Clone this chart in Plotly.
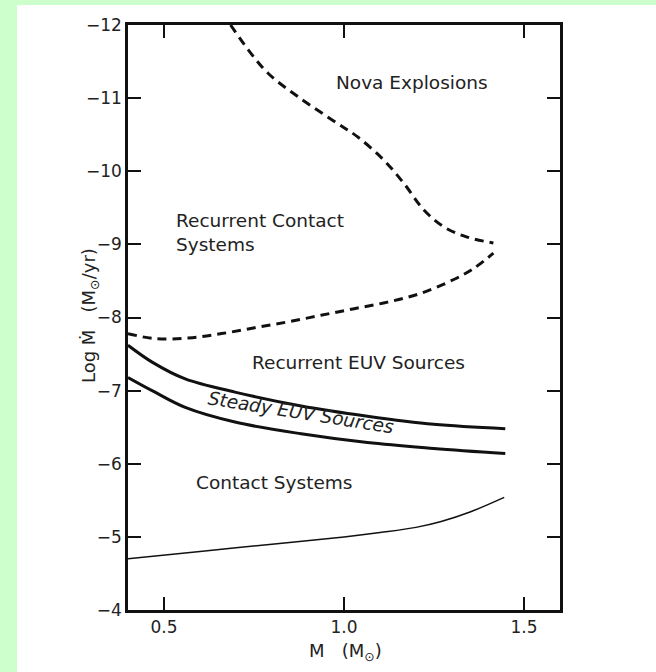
import plotly.graph_objects as go

# ---- data ----
nova_x = [0.685, 0.734, 0.789, 0.872, 0.983, 1.038, 1.111, 1.167, 1.222, 1.277, 1.342, 1.415]
nova_y = [-12.0, -11.66, -11.34, -11.02, -10.65, -10.47, -10.15, -9.83, -9.47, -9.24, -9.10, -9.02]

rc_x = [0.40, 0.476, 0.568, 0.66, 0.752, 0.844, 0.936, 1.028, 1.121, 1.213, 1.305, 1.36, 1.415]
rc_y = [-7.78, -7.71, -7.72, -7.78, -7.86, -7.94, -8.03, -8.12, -8.21, -8.33, -8.52, -8.67, -8.88]

euv_x = [0.40, 0.467, 0.559, 0.697, 0.881, 1.065, 1.249, 1.448]
euv_upper_y = [-7.62, -7.39, -7.16, -6.98, -6.79, -6.65, -6.54, -6.48]
euv_lower_y = [-7.18, -7.0, -6.77, -6.57, -6.41, -6.29, -6.21, -6.14]

contact_x = [0.40, 0.6, 0.8, 1.0, 1.1, 1.2, 1.27, 1.35, 1.445]
contact_y = [-4.70, -4.80, -4.90, -5.0, -5.06, -5.13, -5.21, -5.34, -5.54]

y_ticks = [-12, -11, -10, -9, -8, -7, -6, -5, -4]
y_ticktext = ["\u221212", "\u221211", "\u221210", "\u22129", "\u22128", "\u22127", "\u22126", "\u22125", "\u22124"]
x_ticks = [0.5, 1.0, 1.5]
x_ticktext = ["0.5", "1.0", "1.5"]

region_labels = ["Nova Explosions", "Recurrent Contact<br>Systems", "Recurrent EUV Sources",
                 "Steady EUV Sources", "Contact Systems"]
region_x = [1.19, 0.527, 1.041, 0.881, 0.805]
region_y = [-11.22, -9.16, -7.39, -6.70, -5.74]

W, H = 656, 672
L, R, T, B = 128, 96, 25, 62
pw, ph = W - L - R, H - T - B

ink = "#111111"
text_col = "#222222"
font_family = "DejaVu Sans, sans-serif"
label_size = 18.5

fig = go.Figure()
dash = "9px,6px"
fig.add_trace(go.Scatter(x=nova_x, y=nova_y, mode="lines", line=dict(color=ink, width=3, dash=dash, shape="spline")))
fig.add_trace(go.Scatter(x=rc_x, y=rc_y, mode="lines", line=dict(color=ink, width=3, dash=dash, shape="spline")))
fig.add_trace(go.Scatter(x=euv_x, y=euv_upper_y, mode="lines", line=dict(color=ink, width=3, shape="spline")))
fig.add_trace(go.Scatter(x=euv_x, y=euv_lower_y, mode="lines", line=dict(color=ink, width=3, shape="spline")))
fig.add_trace(go.Scatter(x=contact_x, y=contact_y, mode="lines", line=dict(color=ink, width=1.5, shape="spline")))

# region labels
for i, (t, xx, yy) in enumerate(zip(region_labels, region_x, region_y)):
    kw = dict(x=xx, y=yy, xref="x", yref="y", text=t, showarrow=False,
              xanchor="center", yanchor="middle",
              font=dict(family=font_family, size=label_size, color=text_col))
    if i == 1:
        kw.update(align="left", xanchor="left")
    if i == 3:
        kw.update(textangle=9, font=dict(family=font_family, size=label_size, color=text_col, style="italic"))
    fig.add_annotation(**kw)

# axis titles
fig.add_annotation(xref="paper", yref="paper", x=(90 - L) / pw, y=(H - B - 316) / ph,
                   xanchor="center", yanchor="middle",
                   text="Log Ṁ   (M<sub>⊙</sub>/yr)", textangle=-90, showarrow=False,
                   font=dict(family=font_family, size=18, color=text_col))
fig.add_annotation(xref="paper", yref="paper", x=(345 - L) / pw, y=(H - B - 652) / ph,
                   xanchor="center", yanchor="middle",
                   text="M   (M<sub>⊙</sub>)", showarrow=False,
                   font=dict(family=font_family, size=18, color=text_col))

# white panel on green page
fig.add_shape(type="rect", xref="paper", yref="paper", layer="below",
              x0=(17 - L) / pw, x1=(W + 20 - L) / pw, y0=(H - B - H - 20) / ph, y1=(H - B - 5) / ph,
              fillcolor="white", line=dict(width=0))

axis_common = dict(showgrid=False, zeroline=False, showline=True, linecolor=ink, linewidth=2.5,
                   mirror="ticks", ticks="inside", ticklen=13, tickwidth=1.5, tickcolor=ink,
                   tickfont=dict(family=font_family, size=17, color=text_col))
fig.update_xaxes(range=[0.4, 1.6], tickvals=x_ticks, ticktext=x_ticktext, **axis_common)
fig.update_yaxes(range=[-4, -12], tickvals=y_ticks, ticktext=y_ticktext, **axis_common)

fig.update_layout(width=W, height=H, margin=dict(l=L, r=R, t=T, b=B),
                  paper_bgcolor="#ccffcc", plot_bgcolor="rgba(0,0,0,0)", showlegend=False)

fig.write_html("out.html")
